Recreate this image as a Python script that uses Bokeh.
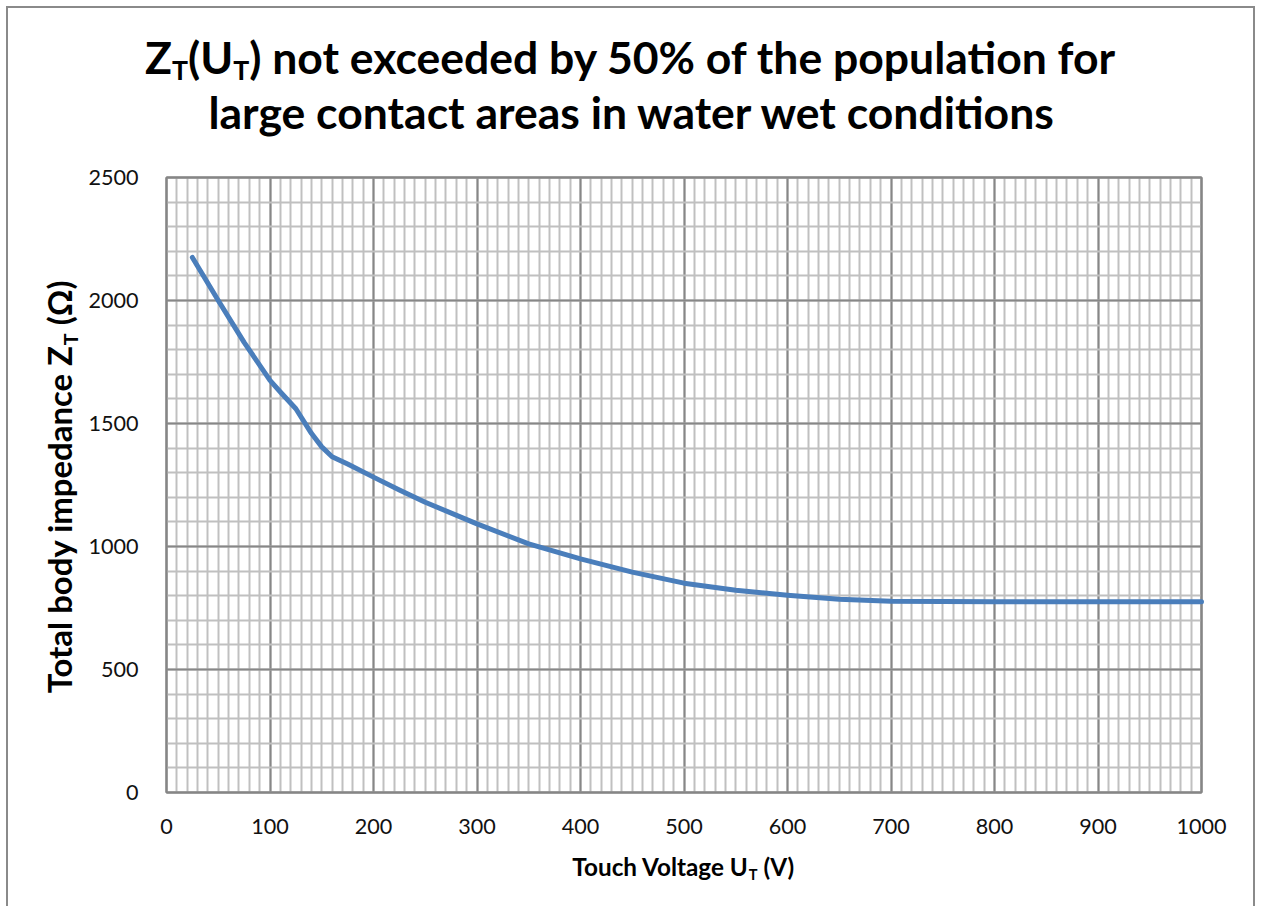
import glob
import math
import struct

import numpy as np
from bokeh.plotting import figure
from bokeh.models import Range1d, SingleIntervalTicker, Label, Grid
from bokeh.core.properties import value
from bokeh.embed import file_html
from bokeh.resources import INLINE

# ---- data ----
touch_voltage = [25, 50, 75, 100, 110, 125, 140, 150, 160, 175, 200, 225, 250, 300,
                 350, 400, 450, 500, 550, 600, 650, 700, 800, 900, 1000]
impedance = [2175, 2000, 1830, 1675, 1628, 1560, 1460, 1405, 1365, 1335, 1282, 1230,
             1180, 1092, 1011, 950, 896, 851, 822, 802, 786, 777, 775, 775, 775]
x_ticks = [0, 100, 200, 300, 400, 500, 600, 700, 800, 900, 1000]
y_ticks = [0, 500, 1000, 1500, 2000, 2500]
x_minor_step = 10
y_minor_step = 100

title_line1 = ["Z", "T", "(U", "T", ") not exceeded by 50% of the population for"]
title_line2 = "large contact areas in water wet conditions"
x_label = ["Touch Voltage U", "T", "(V)"]
y_label = ["Total body impedance Z", "T", "(Ω)"]


# ---- font metrics (for placing subscripts) ----
def parse_font(data):
    num = struct.unpack(">H", data[4:6])[0]
    tables = {}
    for i in range(num):
        tag, _cs, off, _ln = struct.unpack(">4sIII", data[12 + 16 * i:28 + 16 * i])
        tables[tag.decode("latin1")] = off
    upem = struct.unpack(">H", data[tables["head"] + 18:tables["head"] + 20])[0]
    nh = struct.unpack(">H", data[tables["hhea"] + 34:tables["hhea"] + 36])[0]
    hm = tables["hmtx"]
    adv = [struct.unpack(">H", data[hm + 4 * i:hm + 4 * i + 2])[0] for i in range(nh)]
    c = tables["cmap"]
    nsub = struct.unpack(">H", data[c + 2:c + 4])[0]
    sub = None
    for i in range(nsub):
        pid, eid, off = struct.unpack(">HHI", data[c + 4 + 8 * i:c + 12 + 8 * i])
        fmt = struct.unpack(">H", data[c + off:c + off + 2])[0]
        if fmt == 4 and pid in (0, 3):
            sub = c + off
            break
    seg2 = struct.unpack(">H", data[sub + 6:sub + 8])[0]
    seg = seg2 // 2
    ends = struct.unpack(">%dH" % seg, data[sub + 14:sub + 14 + seg2])
    so = sub + 16 + seg2
    starts = struct.unpack(">%dH" % seg, data[so:so + seg2])
    do = so + seg2
    deltas = struct.unpack(">%dh" % seg, data[do:do + seg2])
    ro = do + seg2
    ros = struct.unpack(">%dH" % seg, data[ro:ro + seg2])

    def gid(ch):
        code = ord(ch)
        for i in range(seg):
            if starts[i] <= code <= ends[i]:
                if ros[i] == 0:
                    return (code + deltas[i]) & 0xFFFF
                addr = ro + 2 * i + ros[i] + 2 * (code - starts[i])
                g = struct.unpack(">H", data[addr:addr + 2])[0]
                return (g + deltas[i]) & 0xFFFF if g else 0
        return 0

    def width(text):
        tot = 0
        for ch in text:
            g = gid(ch)
            tot += adv[g] if g < nh else adv[-1]
        return tot / upem
    return width


def load_width(name, fallback):
    pats = [f"/usr/share/fonts/**/{name}.ttf", f"/usr/share/fonts/**/{name}.otf",
            f"/usr/local/share/fonts/**/{name}.ttf", f"/usr/local/share/fonts/**/{name}.otf"]
    for pat in pats:
        for f in glob.glob(pat, recursive=True):
            try:
                w = parse_font(open(f, "rb").read())
                w("Ab")
                return w
            except Exception:
                pass
    return lambda t: fallback * len(t)


wb = load_width("Lato-Bold", 0.55)
wr = load_width("Lato-Regular", 0.55)

FONT = "Lato"
SUB = 0.6       # subscript size ratio
SUB_DY = 0.17   # subscript drop (fraction of font size)

OFF = 8
W, H = 1249, 900
FL, FR, FT, FB = 166, 1201, 177, 792     # plot-area edges on the page
sx = (x_ticks[-1] - x_ticks[0]) / (FR - FL)
sy = (y_ticks[-1] - y_ticks[0]) / (FB - FT)

p = figure(width=W, height=H, output_backend="svg", toolbar_location=None, title=None,
           x_axis_location=None, y_axis_location=None, min_border=0,
           x_range=Range1d((OFF - FL) * sx, (OFF + W - FL) * sx),
           y_range=Range1d((FB - (OFF + H)) * sy, (FB - OFF) * sy))
p.outline_line_color = None
p.styles = {"margin-left": "6px", "margin-top": "6px",
            "border-left": "2px solid #8a8a8a", "border-top": "2px solid #8a8a8a",
            "border-right": "2px solid #8a8a8a"}
for g in p.xgrid + p.ygrid:
    g.visible = False

# ---- grid confined to the plot area ----
xb_ = (x_ticks[0], x_ticks[-1])
yb_ = (y_ticks[0], y_ticks[-1])
if "cross_bounds" in Grid.properties():
    gx = Grid(dimension=0, ticker=SingleIntervalTicker(interval=x_ticks[1] - x_ticks[0],
                                                       num_minor_ticks=(x_ticks[1] - x_ticks[0]) // x_minor_step),
              bounds=xb_, cross_bounds=yb_)
    gy = Grid(dimension=1, ticker=SingleIntervalTicker(interval=y_ticks[1] - y_ticks[0],
                                                       num_minor_ticks=(y_ticks[1] - y_ticks[0]) // y_minor_step),
              bounds=yb_, cross_bounds=xb_)
    for g in (gx, gy):
        g.grid_line_color = "#878787"
        g.grid_line_width = 2
        g.minor_grid_line_color = "#c0c0c0"
        g.minor_grid_line_width = 2
        g.level = "underlay"
        p.add_layout(g, "center")
else:
    xm = [v for v in np.arange(x_ticks[0], x_ticks[-1] + 1, x_minor_step) if v not in x_ticks]
    ym = [v for v in np.arange(y_ticks[0], y_ticks[-1] + 1, y_minor_step) if v not in y_ticks]
    p.segment(x0=xm, x1=xm, y0=[yb_[0]] * len(xm), y1=[yb_[1]] * len(xm), color="#c0c0c0", line_width=2)
    p.segment(x0=[xb_[0]] * len(ym), x1=[xb_[1]] * len(ym), y0=ym, y1=ym, color="#c0c0c0", line_width=2)
    p.segment(x0=x_ticks, x1=x_ticks, y0=[yb_[0]] * len(x_ticks), y1=[yb_[1]] * len(x_ticks),
              color="#878787", line_width=2)
    p.segment(x0=[xb_[0]] * len(y_ticks), x1=[xb_[1]] * len(y_ticks), y0=y_ticks, y1=y_ticks,
              color="#878787", line_width=2)

# plot-area border
p.quad(left=[x_ticks[0]], right=[x_ticks[-1]], bottom=[y_ticks[0]], top=[y_ticks[-1]],
       fill_color=None, line_color="#868686", line_width=2)

# ---- data line ----
p.line(touch_voltage, impedance, line_width=5, color="#4a7ebb", line_cap="round",
       line_join="round")

# ---- tick labels ----
TK = 50.0 / wr("1000")
p.text(x=x_ticks, y=[(FB - 826) * sy] * len(x_ticks), text=[str(t) for t in x_ticks],
       text_font=value(FONT), text_font_size=f"{TK:.1f}px", text_color="#111111",
       text_align="center", text_baseline="middle")
p.text(x=[(138 - FL) * sx] * len(y_ticks), y=y_ticks, text=[str(t) for t in y_ticks],
       text_font=value(FONT), text_font_size=f"{TK:.1f}px", text_color="#111111",
       text_align="right", text_baseline="middle")


def lab(text, x, y, size, angle=0.0, align="left"):
    # screen units: canvas bottom-left origin (frame == canvas)
    p.add_layout(Label(x=x - OFF, y=(OFF + H) - y, x_units="screen", y_units="screen",
                       text=text, text_font=FONT, text_font_size=f"{size:.1f}px",
                       text_font_style="bold", text_color="#000000", angle=angle,
                       text_align=align, text_baseline="alphabetic"))


def piece_units(pieces):
    u = 0.0
    for i, t in enumerate(pieces):
        u += wb(t) * (SUB if i % 2 == 1 else 1.0)
    return u


def draw_pieces(pieces, start, base, size, shift, vertical=False, gap_last=False):
    """Draw text pieces with subscripts. `shift` corrects the renderer's
    baseline offset (in px at full size)."""
    sign = -1 if vertical else 1
    pos = start
    for i, t in enumerate(pieces):
        is_sub = (i % 2 == 1)
        fs = size * (SUB if is_sub else 1.0)
        drop = (SUB_DY * size if is_sub else 0.0) - shift * fs / size
        if i == len(pieces) - 1 and gap_last and i > 0:
            pos += sign * wb(" ") * size
        w = wb(t) * fs
        ang = math.pi / 2 if vertical else 0.0
        if i == 0 and len(pieces) > 1:
            # anchor the first piece by its end so kerning cannot open a gap
            end = pos + sign * w
            if vertical:
                lab(t, base + drop, end, fs, angle=ang, align="right")
            else:
                lab(t, end, base + drop, fs, align="right")
            pos = end
        else:
            if vertical:
                lab(t, base + drop, pos, fs, angle=ang)
            else:
                lab(t, pos, base + drop, fs)
            pos += sign * w


# ---- title ----
CENTER = 632
u1 = piece_units(title_line1)
u2 = wb(title_line2)
TS = (972.0 / u1 + 853.0 / u2) / 2
draw_pieces(title_line1, CENTER - u1 * TS / 2, 72, TS, shift=16)
lab(title_line2, CENTER, 127 - 16, TS, align="center")

# ---- x axis label ----
XS = 232.0 / (piece_units(x_label) + 2 * wb(" "))
draw_pieces(x_label, 567, 875, XS, shift=9, gap_last=True)

# ---- y axis label (rotated, reads bottom to top) ----
YS = 417.0 / (piece_units(y_label) + wb(" "))
draw_pieces(y_label, 697, 72, YS, shift=13, vertical=True, gap_last=True)

open("out.html", "w").write(file_html(p, INLINE))
